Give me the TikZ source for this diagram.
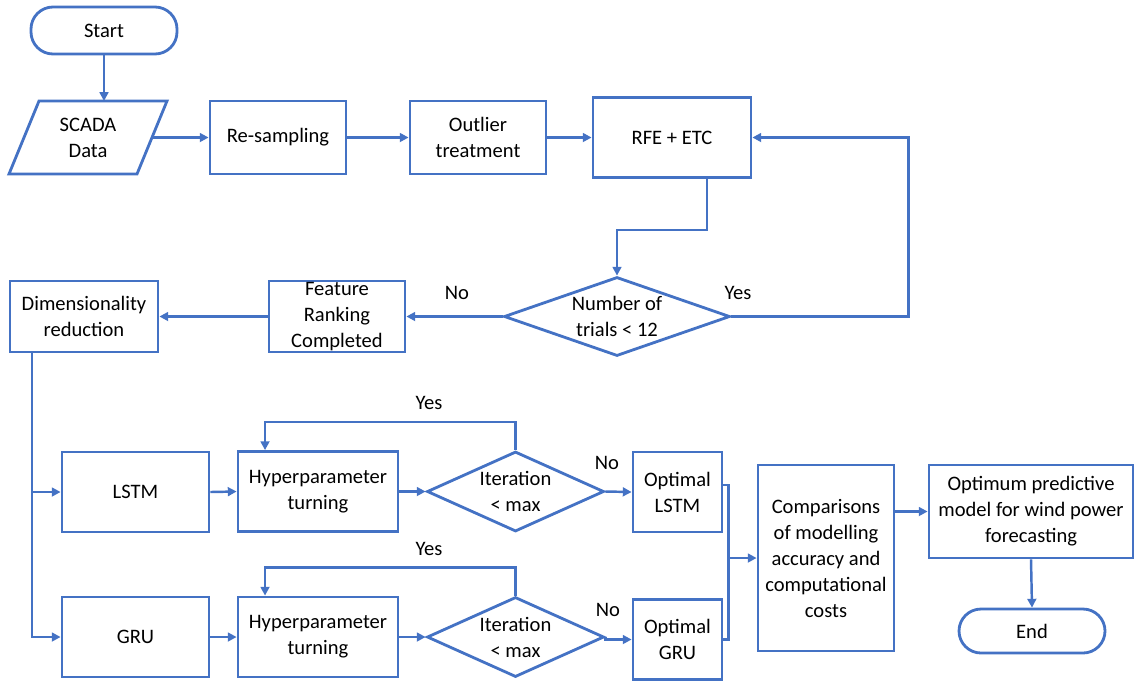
\documentclass[tikz,border=0pt]{standalone}
\usepackage{fontspec}
\setmainfont{Carlito}
\usetikzlibrary{shapes.geometric,arrows.meta}
\definecolor{ob}{HTML}{4472C4}
\begin{document}
\begin{tikzpicture}[x=0.02cm,y=-0.02cm,
  font=\fontsize{11.7pt}{14.8pt}\selectfont,
  wh/.style 2 args={minimum width=#1*0.02cm,minimum height=#2*0.02cm},
  box/.style={draw=ob,line width=1.6pt,fill=white,inner sep=0pt,align=center,text=black},
  term/.style={box,rounded corners=0.44cm},
  dia/.style={draw=ob,line width=1.6pt,shape=diamond,inner sep=0pt},
  txt/.style={inner sep=0pt,align=center},
  arr/.style={draw=ob,line width=1.4pt,-{Triangle[length=5pt,width=5pt]}},
  ln/.style={draw=ob,line width=1.4pt}]
\useasboundingbox (0,0) rectangle (1135,681);

% row 1
\node[term,wh={146}{47}] (start) at (104,30.5) {Start};
\draw[draw=ob,line width=1.6pt] (39,101) -- (167,101) -- (137,174) -- (9,174) -- cycle;
\node[txt] (scada) at (88,137.5) {SCADA\\Data};
\coordinate (scadaN) at (104,101);
\coordinate (scadaE) at (152,137.5);
\node[box,wh={136}{73}] (resamp) at (278,137.5) {Re-sampling};
\node[box,wh={136}{73}] (outlier) at (478,137.5) {Outlier\\treatment};
\node[box,wh={158}{80}] (rfe) at (672,137.5) {RFE + ETC};

% row 2
\node[dia,wh={226}{79}] (trials) at (617,316.5) {};
\node[txt] (trialst) at (trials) {Number of\\trials < 12};
\node[box,wh={136}{71}] (feat) at (337,316.5) {Feature\\Ranking\\Completed};
\node[box,wh={148}{71}] (dim) at (84,316.5) {Dimensionality\\reduction};
\node[txt] (no0) at (457,293) {No};
\node[txt] (yes0) at (738,293) {Yes};

% row A
\node[box,wh={147}{80}] (lstm) at (135.5,492) {LSTM};
\node[box,wh={160}{80}] (hyp1) at (318,491.5) {Hyperparameter\\turning};
\node[dia,wh={177}{80}] (it1) at (515.5,491.5) {};
\node[txt] (it1t) at (it1) {Iteration\\< max};
\node[box,wh={89}{80}] (opt1) at (677.5,492) {Optimal\\LSTM};
\node[txt] (yes1) at (429,403) {Yes};
\node[txt] (no1) at (607,463) {No};

% row B
\node[box,wh={147}{80}] (gru) at (135.5,637) {GRU};
\node[box,wh={160}{80}] (hyp2) at (318,637) {Hyperparameter\\turning};
\node[dia,wh={177}{80}] (it2) at (515.5,637) {};
\node[txt] (it2t) at (it2) {Iteration\\< max};
\node[box,wh={89}{80}] (opt2) at (677.5,639.5) {Optimal\\GRU};
\node[txt] (yes2) at (429,549) {Yes};
\node[txt] (no2) at (608,610) {No};

% right part
\node[box,wh={136}{186}] (comp) at (826,558) {Comparisons\\of modelling\\accuracy and\\computational\\costs};
\node[box,wh={204}{93}] (optimum) at (1031,511.5) {Optimum predictive\\model for wind power\\forecasting};
\node[term,wh={146}{44}] (end) at (1032,631) {End};

% connectors
\draw[arr] (start.south) -- (scadaN);
\draw[arr] (scadaE) -- (resamp.west);
\draw[arr] (resamp.east) -- (outlier.west);
\draw[arr] (outlier.east) -- (rfe.west);
\draw[arr] ([xshift=0.7cm]rfe.south) -- ++(0,51) -| (trials.north);
\draw[arr] (trials.east) -- ++(177,0) |- (rfe.east);
\draw[arr] (trials.west) -- (feat.east);
\draw[arr] (feat.west) -- (dim.east);
\draw[arr] ([xshift=-1.04cm]dim.south) |- (lstm.west);
\draw[arr] ([xshift=-1.04cm]dim.south) |- (gru.west);
\draw[arr] (lstm.east) -- (hyp1.west);
\draw[arr] (hyp1.east) -- (it1.west);
\draw[arr] (it1.east) -- (opt1.west);
\draw[arr] (it1.north) -- ++(0,-28) -| ([xshift=-1.06cm]hyp1.north);
\draw[arr] (gru.east) -- (hyp2.west);
\draw[arr] (hyp2.east) -- (it2.west);
\draw[arr] (it2.east) -- (opt2.west -| it2.east) -- (opt2.west);
\draw[arr] (it2.north) -- ++(0,-28) -| ([xshift=-1.06cm]hyp2.north);
\coordinate (join) at ([xshift=-0.56cm]comp.west);
\draw[ln] ([yshift=0.14cm]opt1.east) -| (join);
\draw[ln] (opt2.east) -| (join);
\draw[arr] (join) -- (comp.west);
\draw[arr] (optimum.west -| comp.east) -- (optimum.west);
\draw[arr] (optimum.south) -- (end.north);
\end{tikzpicture}
\end{document}
